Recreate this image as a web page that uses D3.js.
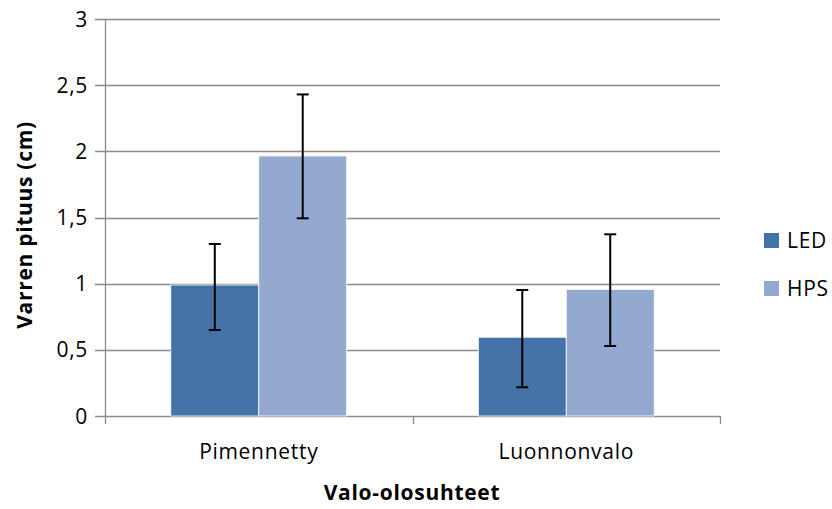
<!DOCTYPE html>
<html><head><meta charset="utf-8">
<script src="https://cdn.jsdelivr.net/npm/d3@7"></script>
<style>body{margin:0;background:#fff}svg{display:block}text{font-family:"Open Sans",Lato,sans-serif;letter-spacing:0.7px}</style>
</head><body><svg id="c" width="832" height="509"></svg>
<script>
const categories = ["Pimennetty", "Luonnonvalo"];
const seriesNames = ["LED", "HPS"];
const ledValues = [0.99, 0.595];
const hpsValues = [1.965, 0.957];
const ledLow = [0.65, 0.217];
const ledHigh = [1.30, 0.952];
const hpsLow = [1.494, 0.529];
const hpsHigh = [2.43, 1.373];
const yTicks = [0, 0.5, 1, 1.5, 2, 2.5, 3];
const colors = ["#4572A7", "#93A9CF"];

const data = categories.map((c, i) => ({
  cat: c,
  vals: [
    {s: "LED", v: ledValues[i], lo: ledLow[i], hi: ledHigh[i]},
    {s: "HPS", v: hpsValues[i], lo: hpsLow[i], hi: hpsHigh[i]}
  ]
}));

const FS = 21;
const svg = d3.select("#c");
const x0 = d3.scaleBand().domain(categories).range([105, 720]).paddingInner(0.428).paddingOuter(0.214);
const x1 = d3.scaleBand().domain(seriesNames).range([0, x0.bandwidth()]).padding(0);
const y = d3.scaleLinear().domain([0, 3]).range([416, 19]);
const color = d3.scaleOrdinal().domain(seriesNames).range(colors);
const fmt = d => String(d).replace(".", ",");

// gridlines
svg.append("g").selectAll("line").data(yTicks).join("line")
  .attr("x1", 95).attr("x2", 720).attr("y1", d => Math.round(y(d)) + 0.5).attr("y2", d => Math.round(y(d)) + 0.5)
  .attr("stroke", "#8c8c8c").attr("stroke-width", 1.3);

// y axis labels
svg.append("g").selectAll("text").data(yTicks).join("text")
  .attr("x", 88).attr("y", d => y(d)).attr("dy", "0.36em").attr("text-anchor", "end")
  .attr("font-size", FS).attr("fill", "#000").text(fmt);

// y axis line
svg.append("line").attr("x1", 105.5).attr("x2", 105.5).attr("y1", 19).attr("y2", 424)
  .attr("stroke", "#8c8c8c").attr("stroke-width", 1.3);

// x ticks
const step = x0.step();
const tickXs = [x0(categories[0]) - x0.paddingInner() * step / 2 + step, 720];
svg.append("g").selectAll("line").data(tickXs).join("line")
  .attr("x1", d => Math.round(d) + 0.5).attr("x2", d => Math.round(d) + 0.5).attr("y1", 416).attr("y2", 424)
  .attr("stroke", "#8c8c8c").attr("stroke-width", 1.3);

// bars
const g = svg.append("g").selectAll("g").data(data).join("g")
  .attr("transform", d => `translate(${x0(d.cat)},0)`);
g.selectAll("rect").data(d => d.vals).join("rect")
  .attr("x", d => x1(d.s)).attr("width", x1.bandwidth())
  .attr("y", d => y(d.v)).attr("height", d => y(0) - y(d.v))
  .attr("fill", d => color(d.s)).attr("stroke", "#fff").attr("stroke-width", 0.8);

// error bars
const eb = g.selectAll("g.eb").data(d => d.vals).join("g").attr("class", "eb")
  .attr("transform", d => `translate(${x1(d.s) + x1.bandwidth() / 2},0)`);
eb.append("line").attr("x1", 0).attr("x2", 0).attr("y1", d => y(d.hi)).attr("y2", d => y(d.lo))
  .attr("stroke", "#000").attr("stroke-width", 2);
eb.append("line").attr("x1", -6).attr("x2", 6).attr("y1", d => y(d.hi)).attr("y2", d => y(d.hi))
  .attr("stroke", "#000").attr("stroke-width", 2);
eb.append("line").attr("x1", -6).attr("x2", 6).attr("y1", d => y(d.lo)).attr("y2", d => y(d.lo))
  .attr("stroke", "#000").attr("stroke-width", 2);

// category labels
svg.append("g").selectAll("text").data(categories).join("text")
  .attr("x", d => x0(d) + x0.bandwidth() / 2).attr("y", 459).attr("text-anchor", "middle")
  .attr("font-size", FS).text(d => d);

// axis titles
svg.append("text").attr("x", 412).attr("y", 500).attr("text-anchor", "middle")
  .attr("font-size", FS).attr("font-weight", "bold").text("Valo-olosuhteet");
svg.append("text").attr("transform", "translate(32,225) rotate(-90)").attr("text-anchor", "middle")
  .attr("font-size", FS).attr("font-weight", "bold").text("Varren pituus (cm)");

// legend
const lg = svg.append("g").selectAll("g").data(seriesNames).join("g")
  .attr("transform", (d, i) => `translate(764,${233 + i * 48})`);
lg.append("rect").attr("width", 15).attr("height", 15).attr("fill", d => color(d));
lg.append("text").attr("x", 23).attr("y", 7.5).attr("dy", "0.36em").attr("font-size", FS).text(d => d);
</script></body></html>
